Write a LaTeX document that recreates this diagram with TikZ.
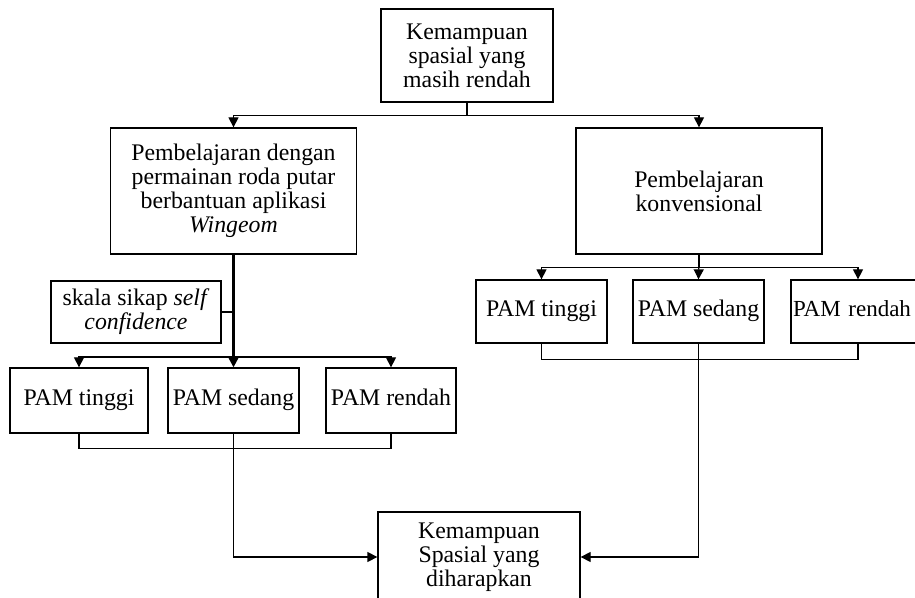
\documentclass[tikz,border=0pt]{standalone}
\usepackage{fontspec}
\setmainfont{Liberation Serif}
\usetikzlibrary{arrows.meta}

\begin{document}
\begin{tikzpicture}[x=0.5pt,y=-0.5pt,
    box/.style={draw,line width=0.65pt,align=center,inner sep=1.5pt,
      font=\fontsize{11.9}{12}\selectfont},
    link/.style={line width=0.65pt},
    arr/.style={link,-{Triangle[length=5pt,width=5pt]}}]
  \clip (0,0) rectangle (915,598);
  % boxes
  \node[box,minimum width=86pt,minimum height=46.5pt] (top) at (467,55.5)
    {Kemampuan\\spasial yang\\masih rendah};
  \node[box,minimum width=123pt,minimum height=63pt] (wing) at (233.5,191)
    {Pembelajaran dengan\\permainan roda putar\\berbantuan aplikasi\\\textit{Wingeom}};
  \node[box,minimum width=123pt,minimum height=63pt] (konv) at (699,191)
    {Pembelajaran\\konvensional};
  \node[box,minimum width=85pt,minimum height=31pt] (self) at (136,312)
    {skala sikap \textit{self}\\\textit{confidence}};
  \foreach \n/\x/\w/\t in {ltin/79/69/tinggi,lsed/233.5/65.5/sedang,lren/391/65/rendah} {
    \node[box,minimum width=\w pt,minimum height=32.5pt] (\n) at (\x,400.5) {\strut PAM \t};
  }
  \foreach \n/\x/\w/\t in {rtin/541.5/65.5/tinggi,rsed/698.5/65.5/sedang} {
    \node[box,minimum width=\w pt,minimum height=31.5pt] (\n) at (\x,311.5) {\strut PAM \t};
  }
  % last box runs past the right edge
  \node[box,minimum height=31.5pt,inner xsep=1pt,text width=65pt,align=left,
    font=\fontsize{11.5}{12}\selectfont] (rren) at (858,311.5) {\strut PAM rendah};
  \node[box,minimum width=101pt,minimum height=45pt] (goal) at (479,557)
    {Kemampuan\\Spasial yang\\diharapkan};
  % top split
  \draw[arr] (top.south) -- ++(0,13) -| (wing.north);
  \draw[arr] (top.south) -- ++(0,13) -| (konv.north);
  % left branch
  \coordinate (lbus) at (233.5,357);
  \draw[line width=1.1pt,-{Triangle[length=5pt,width=5pt]}] (wing.south) -- (lsed.north);
  \draw[link] (self.east) -- (self.east -| wing.south);
  \draw[arr] (lbus) -| (ltin.north);
  \draw[arr] (lbus) -| (lren.north);
  \draw[link] (ltin.south) -- ++(0,15) -| (lren.south);
  \draw[arr] (lsed.south) |- (goal.west);
  % right branch
  \draw[arr] (konv.south) -- (rsed.north);
  \draw[arr] (konv.south) -- ++(0,13) -| (rtin.north);
  \draw[arr] (konv.south) -- ++(0,13) -| (rren.north);
  \draw[link] (rtin.south) -- ++(0,16) -| (rren.south);
  \draw[arr] (rsed.south) |- (goal.east);
\end{tikzpicture}
\end{document}
